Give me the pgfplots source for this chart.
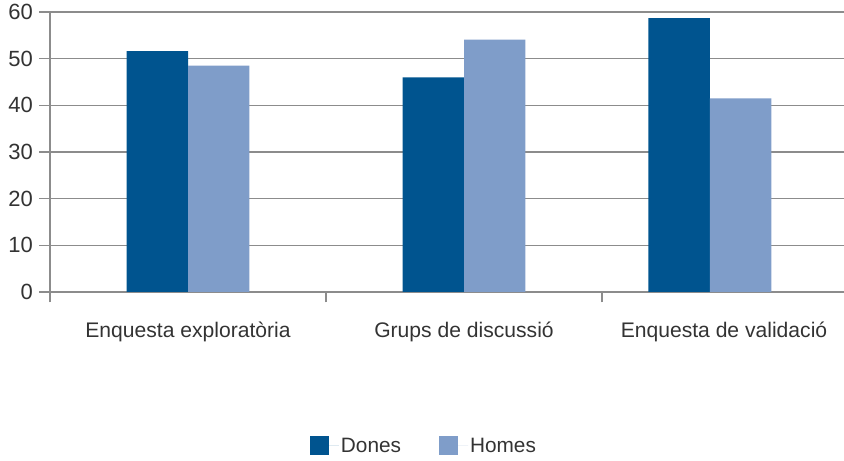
\documentclass[border=0pt]{standalone}
\usepackage{fontspec}
\setmainfont{Liberation Sans}
\usepackage{pgfplots}
\pgfplotsset{compat=1.18}
\definecolor{dones}{HTML}{00548F}
\definecolor{homes}{HTML}{7F9DC9}
\definecolor{gridc}{HTML}{8C8C8C}
\definecolor{txt}{HTML}{333333}
\newcommand{\lf}{\fontsize{20.8}{24}\selectfont}
\newcommand{\xf}{\fontsize{21.1}{24}\selectfont}
\newcommand{\yf}{\fontsize{22}{24}\selectfont}
\begin{document}
\begin{tikzpicture}
\begin{axis}[
  name=ax,
  width=794pt, height=280pt, scale only axis,
  xmin=-0.5, xmax=2.3768, ymin=0, ymax=60,
  axis x line=bottom, axis y line=left,
  axis line style={-, draw=gridc, line width=1.2pt},
  ytick={0,10,...,60},
  ymajorgrids, grid style={draw=gridc, line width=1.2pt},
  tick align=outside,
  major tick length=10.5pt,
  tick style={draw=gridc, line width=1.2pt},
  xtick={-0.5,0.5,1.5}, xticklabels={},
  extra x ticks={0,1,1.942},
  extra x tick labels={Enquesta exploratòria, Grups de discussió, Enquesta de validació},
  extra x tick style={major tick length=0pt, tick style={draw=none}, xticklabel style={anchor=base, yshift=-46pt, font=\xf}},
  ticklabel style={text=txt},
  yticklabel style={font=\yf, xshift=-3pt},
  /pgf/number format/assume math mode=true,
  legend columns=2,
  legend style={at={(0.471,-0.55)}, anchor=center, draw=none, fill=none, font=\lf, text=txt,
    /tikz/every even column/.append style={column sep=36pt}},
]
\addplot[ybar, bar width=0.2228, bar shift=-0.1114, fill=dones, draw=none,
  legend image code/.code={\fill[dones] (0pt,-9.5pt) rectangle (19pt,9.5pt); \path (19pt,0pt) -- (29pt,0pt);}]
  coordinates {(0,51.6) (1,46.0) (1.891,58.7)};
\addlegendentry{Dones}
\addplot[ybar, bar width=0.2228, bar shift=0.1114, fill=homes, draw=none,
  legend image code/.code={\fill[homes] (0pt,-9.5pt) rectangle (19pt,9.5pt); \path (19pt,0pt) -- (29pt,0pt);}]
  coordinates {(0,48.5) (1,54.1) (1.891,41.5)};
\addlegendentry{Homes}
\end{axis}
\pgfresetboundingbox
\path[use as bounding box] ([shift={(-50pt,-169pt)}]ax.south west) rectangle ([shift={(0pt,12pt)}]ax.north east);
\end{tikzpicture}
\end{document}
